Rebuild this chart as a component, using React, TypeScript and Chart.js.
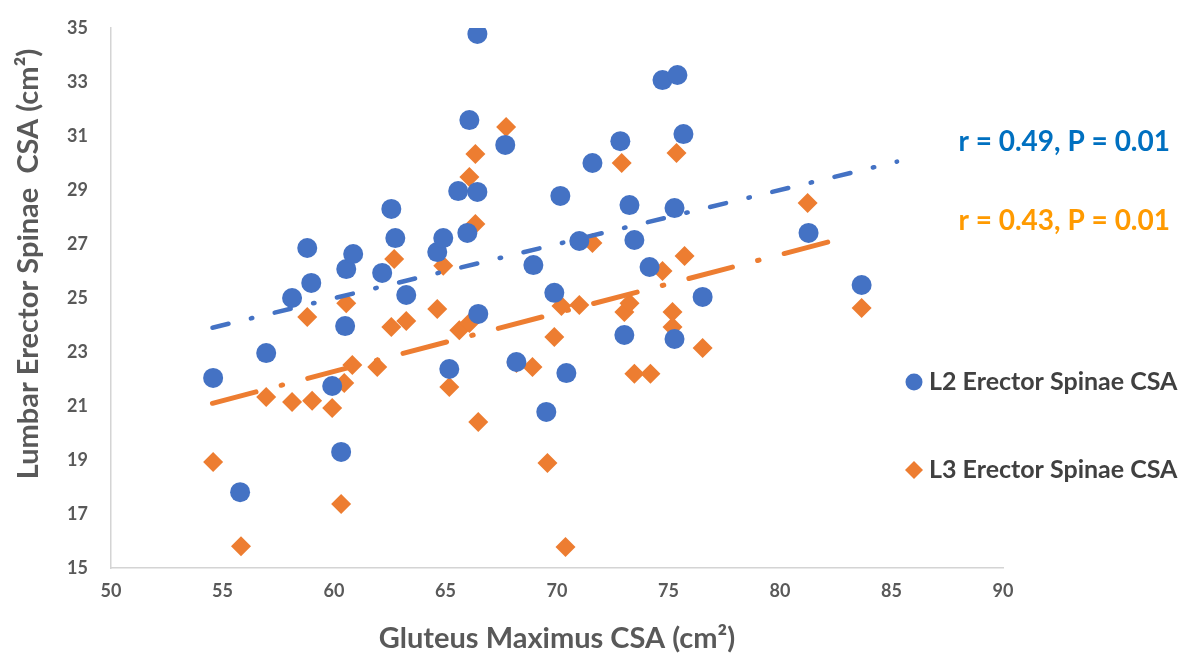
import React, { useEffect, useRef } from "react";
import { Chart, registerables } from "chart.js";

Chart.register(...registerables);

// L2 Erector Spinae CSA (blue circles)
const l2X = [54.58, 55.79, 56.96, 58.12, 58.8, 58.98, 59.92, 60.32, 60.5, 60.55, 60.86, 62.16, 62.57, 62.75, 63.24, 64.63, 64.9, 65.17, 65.57, 66.07, 65.98, 66.43, 66.43, 66.47, 67.68, 68.18, 68.94, 69.52, 69.88, 70.15, 70.42, 71.0, 71.59, 72.84, 73.02, 73.25, 73.47, 74.15, 74.73, 75.4, 75.27, 75.27, 75.67, 76.53, 81.28, 83.66];
const l2Y = [22.04, 17.81, 22.96, 25.0, 26.85, 25.56, 21.74, 19.3, 23.96, 26.07, 26.63, 25.93, 28.3, 27.22, 25.11, 26.7, 27.22, 22.37, 28.96, 31.59, 27.41, 34.78, 28.93, 24.41, 30.67, 22.63, 26.22, 20.78, 25.19, 28.78, 22.22, 27.11, 30.0, 30.81, 23.63, 28.44, 27.15, 26.15, 33.07, 33.26, 28.33, 23.48, 31.07, 25.04, 27.41, 25.48];

// L3 Erector Spinae CSA (orange diamonds)
const l3X = [54.58, 55.83, 56.96, 58.12, 58.8, 59.02, 59.92, 60.32, 60.46, 60.55, 60.82, 61.94, 62.57, 62.7, 63.24, 64.63, 64.9, 65.17, 65.62, 66.07, 66.07, 66.34, 66.34, 66.47, 67.72, 68.18, 68.9, 69.57, 69.88, 70.2, 70.38, 71.0, 71.59, 72.9, 73.02, 73.25, 73.47, 74.19, 74.73, 75.18, 75.18, 75.36, 75.72, 76.53, 81.24, 83.66];
const l3Y = [18.93, 15.81, 21.33, 21.15, 24.3, 21.19, 20.93, 17.37, 21.85, 24.81, 22.52, 22.44, 23.93, 26.44, 24.15, 24.59, 26.19, 21.7, 23.81, 24.07, 29.48, 30.33, 27.74, 20.41, 31.33, 22.59, 22.44, 18.89, 23.56, 24.7, 15.78, 24.74, 27.04, 30.0, 24.48, 24.81, 22.19, 22.19, 26.0, 24.48, 23.93, 30.37, 26.56, 23.15, 28.52, 24.63];

// Linear trendline end points
const l2TrendX = [54.55, 85.25];
const l2TrendY = [23.9, 30.05];
const l3TrendX = [54.55, 82.75];
const l3TrendY = [21.1, 27.2];

const xTicks = [50, 55, 60, 65, 70, 75, 80, 85, 90];
const yTicks = [15, 17, 19, 21, 23, 25, 27, 29, 31, 33, 35];

const seriesNames = ["L2 Erector Spinae CSA", "L3 Erector Spinae CSA"];
const statLabels = ["r = 0.49, P = 0.01", "r = 0.43, P = 0.01"];
const xTitle = "Gluteus Maximus CSA (cm²)";
const yTitle = "Lumbar Erector Spinae  CSA (cm²)";

const BLUE = "#4472C4";
const ORANGE = "#ED7D31";
const STAT_COLORS = ["#0070C0", "#FF9A00"];
const GRAY = "#595959";

const pts = (xs: number[], ys: number[]) => xs.map((x, i) => ({ x, y: ys[i] }));

const overlayPlugin = {
  id: "overlay",
  afterDraw(chart: any) {
    const ctx = chart.ctx as CanvasRenderingContext2D;
    ctx.save();
    // y axis title
    ctx.save();
    ctx.translate(29, 264);
    ctx.rotate(-Math.PI / 2);
    ctx.font = "bold 29px Lato";
    ctx.textAlign = "center";
    ctx.textBaseline = "middle";
    ctx.fillStyle = GRAY;
    ctx.fillText(yTitle, 0, 0);
    ctx.restore();
    // stats annotations
    ctx.font = "bold 28px Lato";
    ctx.textAlign = "right";
    ctx.textBaseline = "middle";
    ctx.fillStyle = STAT_COLORS[0];
    ctx.fillText(statLabels[0], 1170, 142);
    ctx.fillStyle = STAT_COLORS[1];
    ctx.fillText(statLabels[1], 1170, 221);
    // legend
    ctx.textAlign = "left";
    ctx.font = "bold 25px Lato";
    ctx.fillStyle = "#404040";
    ctx.fillText(seriesNames[0], 929, 382);
    ctx.fillText(seriesNames[1], 929, 470);
    ctx.fillStyle = BLUE;
    ctx.beginPath();
    ctx.arc(914, 382, 8.5, 0, Math.PI * 2);
    ctx.fill();
    ctx.fillStyle = ORANGE;
    ctx.beginPath();
    ctx.moveTo(914, 461);
    ctx.lineTo(923, 470);
    ctx.lineTo(914, 479);
    ctx.lineTo(905, 470);
    ctx.closePath();
    ctx.fill();
    ctx.restore();
  },
};

export default function App() {
  const ref = useRef<HTMLCanvasElement | null>(null);
  useEffect(() => {
    document.body.style.margin = "0";
    if (!ref.current) return;
    const chart = new Chart(ref.current, {
      type: "scatter",
      data: {
        datasets: [
          {
            type: "line",
            label: "L2 trend",
            data: pts(l2TrendX, l2TrendY),
            borderColor: BLUE,
            borderWidth: 4.5,
            borderDash: [16.5, 23, 1.5, 23],
            borderCapStyle: "round",
            pointRadius: 0,
            fill: false,
          } as any,
          {
            type: "line",
            label: "L3 trend",
            data: pts(l3TrendX, l3TrendY),
            borderColor: ORANGE,
            borderWidth: 5,
            borderDash: [45, 26, 1.5, 26],
            borderCapStyle: "round",
            pointRadius: 0,
            fill: false,
          } as any,
          {
            label: seriesNames[0],
            data: pts(l2X, l2Y),
            backgroundColor: BLUE,
            borderWidth: 0,
            pointRadius: 10,
            pointStyle: "circle",
          },
          {
            label: seriesNames[1],
            data: pts(l3X, l3Y),
            backgroundColor: ORANGE,
            borderWidth: 0,
            pointRadius: 10,
            pointStyle: "rectRot",
          },
        ],
      },
      options: {
        animation: false,
        responsive: true,
        maintainAspectRatio: false,
        layout: { padding: { left: 0, right: 190, top: 28, bottom: 0 } },
        plugins: { legend: { display: false }, tooltip: { enabled: false } },
        scales: {
          x: {
            type: "linear",
            min: 50,
            max: 90,
            afterBuildTicks: (s: any) => {
              s.ticks = xTicks.map((v) => ({ value: v }));
            },
            afterFit: (s: any) => {
              s.height = 91;
              s.paddingLeft = 0;
              s.paddingRight = 0;
            },
            grid: { display: false, drawTicks: false },
            border: { display: true, color: "#d4d4d4", width: 1.5 },
            ticks: {
              color: GRAY,
              padding: 12,
              font: { family: "Lato", weight: "bold", size: 18 },
            },
            title: {
              display: true,
              text: xTitle,
              color: GRAY,
              font: { family: "Lato", weight: "bold", size: 29 },
              padding: { top: 0, bottom: 3 },
            },
          },
          y: {
            type: "linear",
            min: 15,
            max: 35,
            afterBuildTicks: (s: any) => {
              s.ticks = yTicks.map((v) => ({ value: v }));
            },
            afterFit: (s: any) => {
              s.width = 111;
              s.paddingTop = 0;
              s.paddingBottom = 0;
            },
            grid: { display: false, drawTicks: false },
            border: { display: true, color: "#d4d4d4", width: 1.5 },
            ticks: {
              color: GRAY,
              padding: 23,
              font: { family: "Lato", weight: "bold", size: 18 },
            },
          },
        },
      },
      plugins: [overlayPlugin],
    });
    return () => chart.destroy();
  }, []);
  return (
    <div style={{ width: 1193, height: 659, position: "relative" }}>
      <canvas ref={ref} />
    </div>
  );
}
